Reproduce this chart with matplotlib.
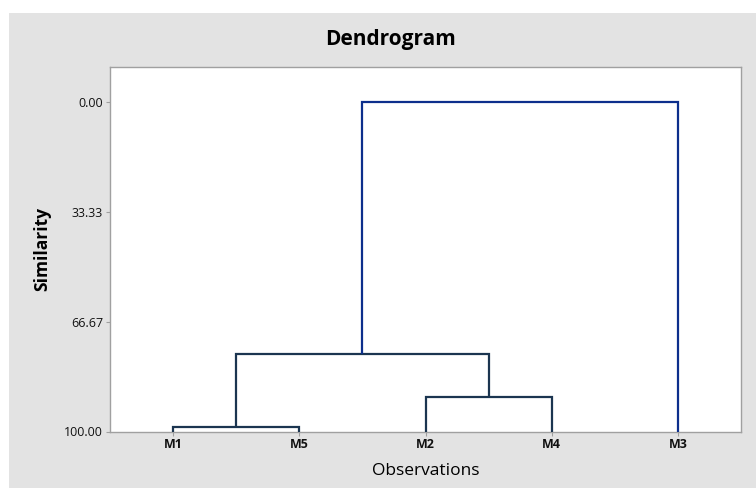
import matplotlib
matplotlib.use("Agg")
import matplotlib.pyplot as plt
from matplotlib.patches import Rectangle

# Data
leaves = ["M1", "M5", "M2", "M4", "M3"]
# merges: (left node, right node, similarity level); nodes >= len(leaves) are clusters
merge_left = [0, 2, 5, 7]
merge_right = [1, 3, 6, 4]
merge_sim = [98.6, 89.5, 76.5, 0.0]
y_ticks = [0.00, 33.33, 66.67, 100.00]
y_tick_labels = ["0.00", "33.33", "66.67", "100.00"]

W, H = 756, 488
fig = plt.figure(figsize=(W / 100, H / 100), dpi=100, facecolor="white")
fig.patches.append(Rectangle((9 / W, 0), 1 - 9 / W, 1 - 13 / H,
                             transform=fig.transFigure, facecolor="#e3e3e3",
                             edgecolor="none", zorder=-10))

ax = fig.add_axes([110 / W, 1 - 431.5 / H, (741 - 110) / W, (431.5 - 66.5) / H])
ax.set_facecolor("white")

font = "Open Sans"
pos = {i: float(i) for i in range(len(leaves))}
height = {i: 100.0 for i in range(len(leaves))}
n = len(leaves)
for k, (a, b, s) in enumerate(zip(merge_left, merge_right, merge_sim)):
    col = "#0d2f8c" if k == len(merge_sim) - 1 else "#1b3550"
    xa, xb = pos[a], pos[b]
    ax.plot([xa, xa, xb, xb], [height[a], s, s, height[b]], color=col,
            lw=1.6, solid_joinstyle="miter", solid_capstyle="butt", zorder=3)
    pos[n + k] = (xa + xb) / 2
    height[n + k] = s

ax.set_xlim(-0.5, 4.5)
ax.set_ylim(100, -10.9)
ax.set_xticks(range(n))
ax.set_xticklabels(leaves, fontsize=9, fontweight="bold", family=font)
ax.set_yticks(y_ticks)
ax.set_yticklabels(y_tick_labels, fontsize=9, family=font)
for sp in ax.spines.values():
    sp.set_color("#a0a0a0")
    sp.set_linewidth(1.0)
ax.tick_params(axis="both", color="#a0a0a0", length=3, width=0.8, pad=2,
               labelcolor="#111111")
ax.set_xlabel("Observations", fontsize=12.5, family=font, labelpad=8)
ax.set_ylabel("Similarity", fontsize=12.5, family=font, fontweight="bold", labelpad=9)
fig.text(390 / W, 1 - 40 / H, "Dendrogram", ha="center", va="center",
         fontsize=15, fontweight="bold", family=font)

fig.savefig("out.png", dpi=100, facecolor=fig.get_facecolor())
